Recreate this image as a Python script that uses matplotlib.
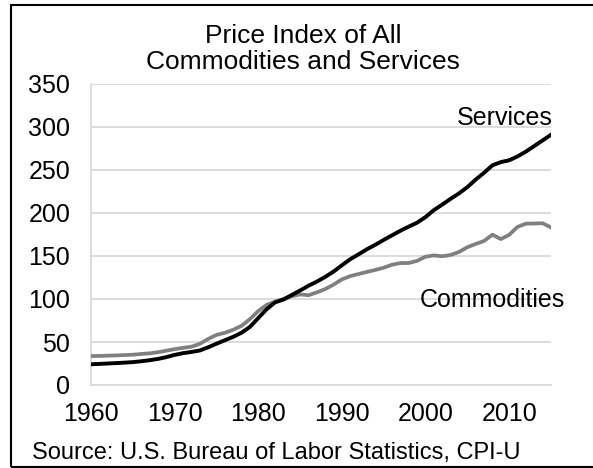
import matplotlib
matplotlib.use("Agg")
import matplotlib.pyplot as plt
from matplotlib.patches import Rectangle

plt.rcParams['font.family'] = ['Liberation Sans', 'DejaVu Sans']

years = list(range(1960, 2016))
services = [24.1, 24.5, 25.0, 25.5, 26.0, 26.6, 27.6, 28.8, 30.3, 32.4,
            35.0, 37.0, 38.4, 40.1, 43.8, 48.0, 52.0, 56.0, 60.8, 67.5,
            77.9, 88.1, 96.0, 99.4, 104.6, 109.9, 115.4, 120.2, 125.7, 131.9,
            139.2, 146.3, 152.0, 157.9, 163.1, 168.7, 174.1, 179.4, 184.2, 188.8,
            195.3, 203.4, 209.8, 216.5, 222.8, 230.1, 238.9, 246.8, 255.5, 259.2,
            261.3, 265.8, 271.4, 277.9, 284.4, 291.0]
commodities = [33.6, 33.8, 34.1, 34.4, 34.8, 35.2, 36.1, 36.8, 38.1, 39.9,
               41.7, 43.2, 44.5, 47.8, 53.5, 58.2, 60.7, 64.2, 68.8, 76.6,
               86.0, 93.2, 97.0, 99.8, 103.2, 105.4, 104.4, 107.7, 111.5, 116.7,
               122.8, 126.6, 129.1, 131.5, 133.8, 136.4, 139.9, 141.8, 141.9, 144.4,
               149.2, 150.7, 149.7, 151.2, 154.7, 160.2, 164.0, 167.5, 174.8, 169.7,
               174.6, 183.9, 187.6, 187.8, 188.1, 183.2]
yticks = [0, 50, 100, 150, 200, 250, 300, 350]
xticks = [1960, 1970, 1980, 1990, 2000, 2010]

W, H = 593, 468
fig = plt.figure(figsize=(W / 100, H / 100), dpi=100)
ax = fig.add_axes([91 / W, 1 - 385 / H, (551 - 91) / W, (385 - 84) / H])

ax.plot(years, commodities, color='#808080', lw=2.7, solid_joinstyle='round', zorder=3)
ax.plot(years, services, color='black', lw=2.8, solid_joinstyle='round', zorder=4)

ax.set_xlim(1960, 2015)
ax.set_ylim(0, 350)
ax.set_yticks(yticks)
ax.set_xticks(xticks)
ax.grid(axis='y', color='#d9d9d9', lw=1.3)
ax.set_axisbelow(True)
for s in ['top', 'right']:
    ax.spines[s].set_visible(False)
for s in ['left', 'bottom']:
    ax.spines[s].set_color('#d9d9d9')
    ax.spines[s].set_linewidth(1.3)
ax.tick_params(axis='both', length=0, labelsize=18)
ax.tick_params(axis='y', pad=15)
ax.tick_params(axis='x', pad=12)

ax.text(2015.2, 302, 'Services', ha='right', va='baseline', fontsize=18)
ax.text(2016.7, 91, 'Commodities', ha='right', va='baseline', fontsize=18)

fig.text(303 / W, 1 - 36 / H, 'Price Index of All', ha='center', va='center', fontsize=19)
fig.text(303 / W, 1 - 62 / H, 'Commodities and Services', ha='center', va='center', fontsize=19)
fig.text(32 / W, 1 - 453 / H, 'Source: U.S. Bureau of Labor Statistics, CPI-U',
         ha='left', va='center', fontsize=17)

fig.add_artist(Rectangle((11 / W, 1 / H), 1.2, (H - 6) / H, transform=fig.transFigure,
                         fill=False, edgecolor='black', lw=1.5, clip_on=False))

fig.savefig('out.png', dpi=100)
